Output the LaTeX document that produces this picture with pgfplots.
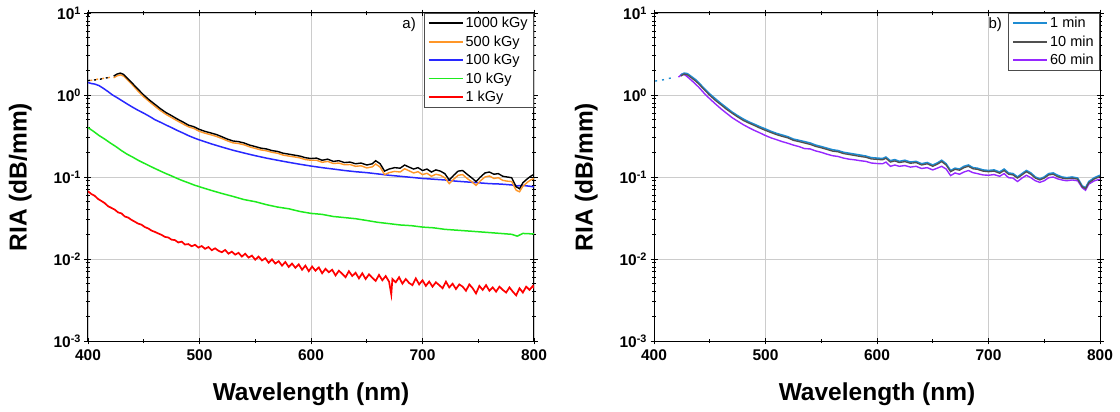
\documentclass[border=0pt]{standalone}
\usepackage{pgfplots}
\pgfplotsset{compat=1.18}
\usepackage{fontspec}
\setmainfont{Liberation Sans}

\definecolor{corange}{RGB}{255,150,40}
\definecolor{cblue}{RGB}{40,40,255}
\definecolor{cgreen}{RGB}{30,235,30}
\definecolor{cred}{RGB}{255,0,0}
\definecolor{bcyan}{RGB}{30,140,210}
\definecolor{bgray}{RGB}{80,80,80}
\definecolor{bpurple}{RGB}{150,40,255}

\pgfplotsset{
 panel/.style={
  scale only axis, width=446pt, height=328pt,
  xmin=400, xmax=800, ymin=1e-3, ymax=10,
  xtick={400,500,600,700,800}, xticklabels={400,500,600,700,800},
  minor xtick={450,550,650,750},
  ytick={1e-3,1e-2,1e-1,1,10},
  yticklabels={10\textsuperscript{-3},10\textsuperscript{-2},10\textsuperscript{-1},10\textsuperscript{0},10\textsuperscript{1}},
  minor ytick={2e-3,3e-3,4e-3,5e-3,6e-3,7e-3,8e-3,9e-3,2e-2,3e-2,4e-2,5e-2,6e-2,7e-2,8e-2,9e-2,0.2,0.3,0.4,0.5,0.6,0.7,0.8,0.9,2,3,4,5,6,7,8,9},
  grid=major, major grid style={gray!40, line width=0.8pt},
  axis line style={line width=1pt},
  tick style={black, line width=0.8pt},
  tick align=center, major tick length=7pt, minor tick length=4pt,
  /pgf/number format/assume math mode=true,
  ticklabel style={font=\fontsize{15.5}{18}\selectfont\bfseries},
  xticklabel style={yshift=-2pt},
  xlabel={Wavelength (nm)}, ylabel={RIA (dB/mm)},
  label style={font=\fontsize{24.5}{28}\selectfont\bfseries},
  xlabel style={at={(axis description cs:0.5,-0.162)}, anchor=center},
  ylabel style={at={(axis description cs:-0.152,0.5)}, anchor=center},
  legend style={at={(rel axis cs:1,1)}, anchor=north east, draw=gray!60!black, line width=0.6pt,
    font=\fontsize{14.5}{16}\selectfont, inner xsep=4pt, inner ysep=2pt, row sep=2.4pt,
    nodes={inner sep=2pt}, cells={anchor=west}},
  legend cell align=left,
  legend image code/.code={\draw[##1, line width=1.8pt] (0pt,0pt) -- (34pt,0pt);},
 }
}

\begin{document}
\begin{tikzpicture}
\useasboundingbox (0,0) rectangle (1120pt,412pt);

% ---------------- panel a ----------------
\begin{semilogyaxis}[panel, at={(88pt,71pt)}, anchor=south west]
\addlegendimage{black}
\addlegendentry{1000 kGy}
\addlegendimage{corange}
\addlegendentry{500 kGy}
\addlegendimage{cblue}
\addlegendentry{100 kGy}
\addlegendimage{cgreen}
\addlegendentry{10 kGy}
\addlegendimage{cred}
\addlegendentry{1 kGy}

% 1 kGy
\addplot[cred, line width=1.7pt, forget plot] coordinates {
(400,0.067)(403,0.062)(406,0.059)(409,0.054)(412,0.051)(415,0.048)(418,0.044)(421,0.042)(424,0.040)(427,0.037)
(430,0.036)(433,0.033)(436,0.032)(439,0.030)(442,0.0285)(445,0.027)(448,0.0262)(451,0.0245)(454,0.0236)(457,0.0222)
(460,0.0214)(463,0.0205)(466,0.0197)(469,0.0186)(472,0.0183)(475,0.0172)(478,0.0170)(481,0.0159)(484,0.0163)(487,0.0150)
(490,0.0152)(493,0.0143)(496,0.0149)(499,0.0138)(502,0.0144)(505,0.0133)(508,0.0140)(511,0.0128)(514,0.0135)(517,0.0126)
(520,0.0121)(523,0.0129)(526,0.0116)(529,0.0123)(532,0.0113)(535,0.0119)(538,0.0107)(541,0.0116)(544,0.0104)(547,0.0110)
(550,0.0098)(553,0.0107)(556,0.0096)(559,0.0102)(562,0.0090)(565,0.0099)(568,0.0088)(571,0.0094)(574,0.0083)(577,0.0092)
(580,0.0080)(583,0.0088)(586,0.0078)(589,0.0086)(592,0.0074)(595,0.0083)(598,0.0071)(601,0.0081)(604,0.0072)(607,0.0079)
(610,0.0067)(613,0.0076)(616,0.0069)(619,0.0074)(622,0.0063)(625,0.0072)(628,0.0066)(631,0.0060)(634,0.0071)(637,0.0062)
(640,0.0068)(643,0.0058)(646,0.0067)(649,0.0057)(652,0.0065)(655,0.0059)(658,0.0054)(661,0.0064)(664,0.0055)(667,0.0062)
(670,0.0053)(672,0.0037)(673,0.0057)(676,0.0052)(679,0.0060)(682,0.0050)(685,0.0057)(688,0.0051)(691,0.0048)(694,0.0058)
(697,0.0049)(700,0.0055)(703,0.0047)(706,0.0053)(709,0.0046)(712,0.0052)(715,0.0048)(718,0.0044)(721,0.0053)(724,0.0045)
(727,0.0050)(730,0.0043)(733,0.0049)(736,0.0046)(739,0.0041)(742,0.0049)(745,0.0044)(748,0.0038)(751,0.0047)(754,0.0042)
(757,0.0048)(760,0.0041)(763,0.0045)(766,0.0040)(769,0.0046)(772,0.0042)(775,0.0039)(778,0.0045)(781,0.0040)(784,0.0036)
(787,0.0044)(790,0.0039)(793,0.0046)(796,0.0042)(799,0.0047)(800,0.0044)};

% 10 kGy
\addplot[cgreen, line width=1.5pt, forget plot] coordinates {
(400,0.40)(405,0.36)(410,0.32)(415,0.29)(420,0.26)(425,0.235)(430,0.21)(435,0.19)(440,0.175)(445,0.16)
(450,0.148)(455,0.137)(460,0.127)(465,0.118)(470,0.11)(475,0.103)(480,0.096)(485,0.09)(490,0.085)(495,0.08)
(500,0.076)(510,0.069)(520,0.063)(530,0.058)(540,0.053)(550,0.05)(560,0.046)(570,0.043)(580,0.041)(590,0.038)
(600,0.036)(610,0.035)(620,0.033)(630,0.032)(640,0.031)(650,0.0295)(660,0.028)(670,0.027)(680,0.026)(690,0.0255)
(700,0.0245)(710,0.024)(720,0.023)(730,0.0225)(740,0.022)(750,0.0215)(760,0.021)(770,0.0205)(780,0.02)(785,0.019)
(790,0.0205)(800,0.0202)};

% 100 kGy
\addplot[cblue, line width=1.5pt, forget plot] coordinates {
(400,1.42)(403,1.38)(406,1.36)(410,1.3)(414,1.2)(418,1.1)(422,1.0)(426,0.93)(430,0.86)(435,0.78)
(440,0.71)(445,0.65)(450,0.60)(455,0.55)(460,0.50)(465,0.465)(470,0.43)(475,0.40)(480,0.37)(485,0.345)
(490,0.32)(495,0.30)(500,0.283)(510,0.255)(520,0.232)(530,0.212)(540,0.196)(550,0.182)(560,0.17)(570,0.16)
(580,0.151)(590,0.143)(600,0.136)(610,0.13)(620,0.125)(630,0.12)(640,0.116)(650,0.113)(660,0.109)(670,0.105)
(680,0.102)(690,0.099)(700,0.096)(710,0.094)(720,0.092)(730,0.089)(740,0.087)(750,0.085)(760,0.083)(770,0.082)
(780,0.08)(785,0.078)(790,0.079)(800,0.076)};

% 500 kGy
\addplot[corange, line width=1.4pt, dash pattern=on 2pt off 4pt, forget plot] coordinates {
(402,1.5)(407,1.55)(412,1.58)(417,1.62)(421,1.65)};
\addplot[corange, line width=1.4pt, forget plot] coordinates {
(423,1.62)(426,1.71)(429,1.76)(432,1.7)(435,1.55)(440,1.32)(445,1.11)(450,0.95)(455,0.83)(460,0.73)
(465,0.645)(470,0.58)(475,0.53)(480,0.485)(485,0.445)(490,0.41)(495,0.39)(500,0.36)(505,0.342)(510,0.328)
(515,0.313)(520,0.295)(525,0.276)(530,0.261)(535,0.256)(540,0.247)(545,0.233)(550,0.223)(555,0.214)(560,0.209)
(565,0.2)(570,0.195)(575,0.185)(580,0.18)(585,0.176)(590,0.171)(595,0.163)(600,0.16)(605,0.16)(610,0.151)
(615,0.155)(620,0.146)(625,0.148)(630,0.141)(635,0.142)(640,0.135)(645,0.137)(650,0.129)(655,0.133)(658,0.144)
(662,0.132)(666,0.107)(670,0.113)(675,0.117)(680,0.115)(684,0.126)(688,0.119)(692,0.112)(696,0.116)(700,0.107)
(704,0.111)(708,0.102)(712,0.108)(716,0.105)(720,0.098)(724,0.083)(728,0.094)(732,0.105)(736,0.107)(740,0.096)
(744,0.088)(748,0.079)(752,0.09)(756,0.1)(760,0.103)(764,0.096)(768,0.098)(772,0.091)(776,0.089)(780,0.088)
(784,0.069)(787,0.066)(790,0.077)(794,0.086)(797,0.092)(800,0.096)};

% 1000 kGy
\addplot[black, line width=1.4pt, dash pattern=on 2pt off 4pt, forget plot] coordinates {
(400,1.5)(405,1.52)(410,1.55)(415,1.6)(420,1.65)};
\addplot[black, line width=1.4pt, forget plot] coordinates {
(423,1.70)(426,1.80)(429,1.85)(432,1.78)(435,1.62)(440,1.38)(445,1.17)(450,1.00)(455,0.87)(460,0.77)
(465,0.68)(470,0.61)(475,0.56)(480,0.51)(485,0.47)(490,0.43)(495,0.41)(500,0.38)(505,0.36)(510,0.345)
(515,0.33)(520,0.31)(525,0.29)(530,0.275)(535,0.27)(540,0.26)(545,0.245)(550,0.235)(555,0.225)(560,0.22)
(565,0.21)(570,0.205)(575,0.195)(580,0.19)(585,0.185)(590,0.18)(595,0.172)(600,0.168)(605,0.17)(610,0.16)
(615,0.165)(620,0.155)(625,0.158)(630,0.15)(635,0.152)(640,0.145)(645,0.148)(650,0.14)(655,0.145)(658,0.158)
(662,0.145)(666,0.118)(670,0.125)(675,0.13)(680,0.128)(684,0.14)(688,0.132)(692,0.125)(696,0.13)(700,0.12)
(704,0.125)(708,0.115)(712,0.122)(716,0.118)(720,0.11)(724,0.092)(728,0.105)(732,0.118)(736,0.12)(740,0.108)
(744,0.098)(748,0.088)(752,0.1)(756,0.112)(760,0.115)(764,0.108)(768,0.11)(772,0.102)(776,0.1)(780,0.098)
(784,0.076)(787,0.072)(790,0.085)(794,0.095)(797,0.102)(800,0.108)};

\node[font=\fontsize{15}{17}\selectfont, anchor=center] at (rel axis cs:0.72,0.966) {a)};
\end{semilogyaxis}

% ---------------- panel b ----------------
\begin{semilogyaxis}[panel, at={(654pt,71pt)}, anchor=south west]
\addlegendimage{bcyan}
\addlegendentry{1 min}
\addlegendimage{bgray}
\addlegendentry{10 min}
\addlegendimage{bpurple}
\addlegendentry{60 min}

% 60 min
\addplot[bpurple, line width=1.4pt, forget plot] coordinates {
(422,1.65)(425,1.8)(428,1.75)(431,1.62)(435,1.45)(440,1.25)(445,1.05)(450,0.9)(455,0.78)(460,0.68)
(465,0.6)(470,0.53)(475,0.48)(480,0.435)(485,0.4)(490,0.37)(495,0.345)(500,0.32)(505,0.3)(510,0.285)
(515,0.27)(520,0.258)(525,0.245)(530,0.235)(535,0.222)(540,0.22)(545,0.208)(550,0.2)(555,0.19)(560,0.182)
(565,0.178)(570,0.17)(575,0.165)(580,0.162)(585,0.158)(590,0.155)(595,0.148)(600,0.146)(605,0.145)(608,0.152)
(612,0.135)(616,0.14)(620,0.135)(625,0.138)(630,0.132)(635,0.135)(640,0.127)(645,0.13)(650,0.122)(654,0.128)
(658,0.135)(662,0.125)(666,0.104)(670,0.112)(674,0.108)(678,0.115)(682,0.12)(686,0.113)(690,0.11)(695,0.106)
(700,0.105)(705,0.107)(710,0.102)(714,0.11)(718,0.098)(722,0.097)(726,0.088)(730,0.097)(734,0.105)(738,0.098)
(742,0.09)(746,0.086)(750,0.09)(754,0.098)(758,0.1)(762,0.095)(766,0.092)(770,0.09)(775,0.092)(780,0.09)
(784,0.074)(787,0.069)(790,0.082)(795,0.09)(800,0.094)};

% 1 min
\addplot[bcyan, line width=1.4pt, dash pattern=on 2pt off 5pt, forget plot] coordinates {
(401,1.48)(405,1.5)(410,1.55)(414,1.6)(418,1.65)};
\addplot[bcyan, line width=1.6pt, forget plot] coordinates {
(424,1.75)(427,1.85)(430,1.82)(433,1.7)(437,1.55)(440,1.42)(445,1.2)(450,1.03)(455,0.9)(460,0.79)
(465,0.7)(470,0.62)(475,0.56)(480,0.51)(485,0.47)(490,0.44)(495,0.41)(500,0.385)(505,0.36)(510,0.34)
(515,0.325)(520,0.31)(525,0.29)(530,0.28)(535,0.27)(540,0.26)(545,0.245)(550,0.235)(555,0.225)(560,0.215)
(565,0.21)(570,0.2)(575,0.195)(580,0.19)(585,0.185)(590,0.18)(595,0.172)(600,0.17)(605,0.168)(608,0.175)
(612,0.158)(616,0.163)(620,0.155)(625,0.16)(630,0.152)(635,0.155)(640,0.145)(645,0.15)(650,0.14)(654,0.148)
(658,0.16)(662,0.145)(666,0.12)(670,0.128)(674,0.125)(678,0.135)(682,0.14)(686,0.13)(690,0.128)(695,0.122)
(700,0.12)(705,0.122)(710,0.115)(714,0.125)(718,0.112)(722,0.11)(726,0.1)(730,0.11)(734,0.12)(738,0.112)
(742,0.1)(746,0.095)(750,0.1)(754,0.11)(758,0.112)(762,0.105)(766,0.1)(770,0.098)(775,0.1)(780,0.097)
(784,0.078)(787,0.074)(790,0.088)(795,0.098)(800,0.105)};

% 10 min
\addplot[bgray, line width=1.3pt, forget plot] coordinates {
(424,1.7)(427,1.8)(430,1.76)(433,1.64)(437,1.49)(440,1.37)(445,1.16)(450,0.99)(455,0.86)(460,0.76)
(465,0.67)(470,0.6)(475,0.54)(480,0.49)(485,0.455)(490,0.425)(495,0.395)(500,0.37)(505,0.348)(510,0.328)
(515,0.313)(520,0.3)(525,0.28)(530,0.27)(535,0.26)(540,0.25)(545,0.236)(550,0.227)(555,0.217)(560,0.207)
(565,0.203)(570,0.193)(575,0.188)(580,0.183)(585,0.178)(590,0.174)(595,0.166)(600,0.164)(605,0.162)(608,0.169)
(612,0.152)(616,0.157)(620,0.15)(625,0.154)(630,0.147)(635,0.15)(640,0.14)(645,0.145)(650,0.135)(654,0.143)
(658,0.154)(662,0.14)(666,0.116)(670,0.124)(674,0.121)(678,0.13)(682,0.135)(686,0.126)(690,0.124)(695,0.118)
(700,0.116)(705,0.118)(710,0.111)(714,0.12)(718,0.108)(722,0.106)(726,0.097)(730,0.106)(734,0.116)(738,0.108)
(742,0.097)(746,0.092)(750,0.097)(754,0.106)(758,0.108)(762,0.101)(766,0.097)(770,0.095)(775,0.097)(780,0.094)
(784,0.076)(787,0.072)(790,0.085)(795,0.095)(800,0.101)};

\node[font=\fontsize{15}{17}\selectfont, anchor=center] at (rel axis cs:0.765,0.966) {b)};
\end{semilogyaxis}
\end{tikzpicture}
\end{document}
